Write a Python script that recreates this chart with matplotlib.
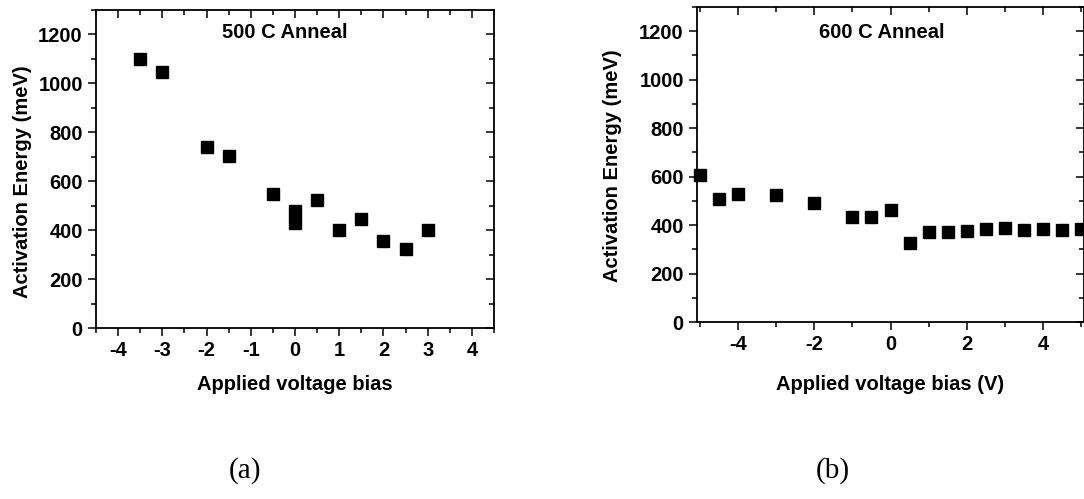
import numpy as np
import matplotlib
matplotlib.use("Agg")
import matplotlib.pyplot as plt
from matplotlib.ticker import MultipleLocator

# 500 C anneal
bias_500 = [-3.5, -3, -2, -1.5, -0.5, 0, 0, 0.5, 1, 1.5, 2, 2.5, 3]
ea_500 = [1098, 1048, 739, 705, 549, 479, 430, 522, 400, 445, 357, 321, 400]

# 600 C anneal
bias_600 = [-5, -4.5, -4, -3, -2, -1, -0.5, 0, 0.5, 1, 1.5, 2, 2.5, 3, 3.5, 4, 4.5, 5]
ea_600 = [607, 506, 530, 526, 492, 434, 433, 462, 327, 372, 371, 377, 382, 386, 379, 385, 378, 385]

plt.rcParams['font.family'] = ['Liberation Sans', 'DejaVu Sans']
plt.rcParams['font.weight'] = 'bold'
plt.rcParams['axes.unicode_minus'] = False

W, H = 1084, 499
FS = 14.5
fig = plt.figure(figsize=(W / 100, H / 100), dpi=100)


def px_axes(l, t, r, b):
    return fig.add_axes([l / W, 1 - b / H, (r - l) / W, (b - t) / H])


def style(ax):
    for s in ax.spines.values():
        s.set_linewidth(1.3)
    ax.tick_params(which='both', direction='out', labelsize=FS, width=1.1)
    ax.tick_params(which='major', length=6)
    ax.tick_params(which='minor', length=3.5)
    ax.tick_params(which='both', top=True, right=True)
    ax.yaxis.set_major_locator(MultipleLocator(200))
    ax.yaxis.set_minor_locator(MultipleLocator(100))
    for lab in ax.get_xticklabels() + ax.get_yticklabels():
        lab.set_fontweight('bold')
    # mirror ticks point inward
    for t in ax.xaxis.get_major_ticks() + ax.xaxis.get_minor_ticks():
        t.tick2line.set_marker(3)
    for t in ax.yaxis.get_major_ticks() + ax.yaxis.get_minor_ticks():
        t.tick2line.set_marker(0)


ax1 = px_axes(96, 10, 494, 328)
ax1.plot(bias_500, ea_500, 's', color='black', markersize=8.5, linestyle='none')
ax1.set_xlim(-4.5, 4.5)
ax1.set_ylim(0, 1300)
ax1.xaxis.set_major_locator(MultipleLocator(1))
ax1.xaxis.set_minor_locator(MultipleLocator(0.5))
style(ax1)
ax1.set_xlabel('Applied voltage bias', fontsize=FS, fontweight='bold')
ax1.set_ylabel('Activation Energy (meV)', fontsize=FS, fontweight='bold')
ax1.xaxis.set_label_coords(0.5, -0.148)
ax1.yaxis.set_label_coords(-0.161, 0.46)
ax1.text(0.475, 0.93, '500 C Anneal', transform=ax1.transAxes, ha='center', va='center',
         fontsize=FS, fontweight='bold')

ax2 = px_axes(697, 7, 1084, 322)
ax2.plot(bias_600, ea_600, 's', color='black', markersize=8.5, linestyle='none', clip_on=False)
ax2.set_xlim(-5.08, 5.08)
ax2.set_ylim(0, 1300)
ax2.xaxis.set_major_locator(MultipleLocator(2))
ax2.xaxis.set_minor_locator(MultipleLocator(1))
style(ax2)
ax2.set_xlabel('Applied voltage bias (V)', fontsize=FS, fontweight='bold')
ax2.set_ylabel('Activation Energy (meV)', fontsize=FS, fontweight='bold')
ax2.xaxis.set_label_coords(0.5, -0.168)
ax2.yaxis.set_label_coords(-0.194, 0.495)
ax2.text(0.477, 0.92, '600 C Anneal', transform=ax2.transAxes, ha='center', va='center',
         fontsize=FS, fontweight='bold')

fig.text(245 / W, 1 - 471 / H, '(a)', ha='center', va='center', fontsize=21,
         family='Liberation Serif', fontweight='normal')
fig.text(833 / W, 1 - 471 / H, '(b)', ha='center', va='center', fontsize=21,
         family='Liberation Serif', fontweight='normal')

fig.savefig('out.png', dpi=100)
